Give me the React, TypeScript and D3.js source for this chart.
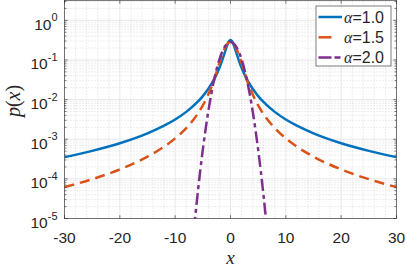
import React from "react";
import * as d3 from "d3";

const W = 407;
const H = 266;
const plot = { left: 64.5, right: 396.5, top: 0.5, bottom: 218.5 };

const xTicks = [-30, -20, -10, 0, 10, 20, 30];
const yExps = [-5, -4, -3, -2, -1, 0];

// sample points for the heavy-tailed curves
const xHeavy = [
  -30, -25, -20, -15, -12, -10, -8, -6, -5, -4, -3, -2.5, -2, -1.5, -1, -0.5, -0.25, 0,
  0.25, 0.5, 1, 1.5, 2, 2.5, 3, 4, 5, 6, 8, 10, 12, 15, 20, 25, 30,
];
const pAlpha10 = [
  0.000353, 0.000509, 0.000794, 0.00141, 0.0022, 0.00315, 0.0049, 0.0086, 0.01224, 0.01872,
  0.0318, 0.0439, 0.0637, 0.0979, 0.1592, 0.2546, 0.2996, 0.3183,
  0.2996, 0.2546, 0.1592, 0.0979, 0.0637, 0.0439, 0.0318, 0.01872, 0.01224, 0.0086, 0.0049,
  0.00315, 0.0022, 0.00141, 0.000794, 0.000509, 0.000353,
];
const pAlpha15 = [
  0.0000619, 0.0000982, 0.000173, 0.000363, 0.000649, 0.00105, 0.00191, 0.00422, 0.00711,
  0.0137, 0.0303, 0.051, 0.0844, 0.1361, 0.202, 0.2623, 0.2808, 0.2874,
  0.2808, 0.2623, 0.202, 0.1361, 0.0844, 0.051, 0.0303, 0.0137, 0.00711, 0.00422, 0.00191,
  0.00105, 0.000649, 0.000363, 0.000173, 0.0000982, 0.0000619,
];

const xGauss = [
  -7, -6.5, -6, -5.5, -5, -4.5, -4, -3.5, -3, -2.5, -2, -1.5, -1, -0.5, 0,
  0.5, 1, 1.5, 2, 2.5, 3, 3.5, 4, 4.5, 5, 5.5, 6, 6.5, 7,
];
const pAlpha20 = [
  0.00000135, 0.00000728, 0.0000348, 0.000147, 0.000545, 0.00179, 0.00517, 0.0132, 0.0297,
  0.0591, 0.1038, 0.1607, 0.2197, 0.265, 0.2821,
  0.265, 0.2197, 0.1607, 0.1038, 0.0591, 0.0297, 0.0132, 0.00517, 0.00179, 0.000545, 0.000147,
  0.0000348, 0.00000728, 0.00000135,
];

const series = [
  { label: "1.0", x: xHeavy, y: pAlpha10, color: "#0072BD", dash: undefined, legendDash: undefined },
  { label: "1.5", x: xHeavy, y: pAlpha15, color: "#D95319", dash: "10,6", legendDash: "13,40" },
  { label: "2.0", x: xGauss, y: pAlpha20, color: "#7E2F8E", dash: "12,4,4,4", legendDash: "13,3,6,20" },
];

const axisColor = "#262626";
const sans = "'Liberation Sans', Arial, Helvetica, sans-serif";
const serif = "'Liberation Serif', 'Times New Roman', serif";

export default function App() {
  const x = d3.scaleLinear().domain([-30, 30]).range([plot.left, plot.right]);
  const y = d3.scaleLog().domain([1e-5, Math.pow(10, 0.5)]).range([plot.bottom, plot.top]);

  const line = d3
    .line<[number, number]>()
    .x((d) => x(d[0]))
    .y((d) => y(Math.max(d[1], 1e-9)))
    .curve(d3.curveMonotoneX);

  const xMinor = d3.range(-30, 31, 2).filter((v) => v % 10 !== 0);
  const yMinor: number[] = [];
  yExps.forEach((e) => {
    for (let k = 2; k <= 9; k++) {
      const v = k * Math.pow(10, e);
      if (v <= Math.pow(10, 0.5)) yMinor.push(v);
    }
  });

  const tick = 3.3;
  const minorTick = 2;

  return (
    <svg
      width={W}
      height={H}
      style={{ position: "absolute", left: 0, top: 0, background: "#fff" }}
    >
      <defs>
        <clipPath id="plotClip">
          <rect x={plot.left} y={plot.top} width={plot.right - plot.left} height={plot.bottom - plot.top} />
        </clipPath>
      </defs>
      <rect x={plot.left} y={plot.top} width={plot.right - plot.left} height={plot.bottom - plot.top} fill="#fff" />

      {/* minor grid */}
      <g stroke="#c4c4c4" strokeWidth={0.6} strokeDasharray="1,2">
        {xMinor.map((v) => (
          <line key={"xm" + v} x1={x(v)} x2={x(v)} y1={plot.top} y2={plot.bottom} />
        ))}
        {yMinor.map((v) => (
          <line key={"ym" + v} x1={plot.left} x2={plot.right} y1={y(v)} y2={y(v)} />
        ))}
      </g>
      {/* major grid */}
      <g stroke="#dedede" strokeWidth={0.7}>
        {xTicks.map((v) => (
          <line key={"xg" + v} x1={x(v)} x2={x(v)} y1={plot.top} y2={plot.bottom} />
        ))}
        {yExps.map((e) => (
          <line key={"yg" + e} x1={plot.left} x2={plot.right} y1={y(Math.pow(10, e))} y2={y(Math.pow(10, e))} />
        ))}
      </g>

      {/* curves */}
      <g clipPath="url(#plotClip)" fill="none">
        {series.map((s) => (
          <path
            key={s.label}
            d={line(s.x.map((v, i) => [v, s.y[i]] as [number, number])) || ""}
            stroke={s.color}
            strokeWidth={2.5}
            strokeDasharray={s.dash}
            strokeLinejoin="round"
          />
        ))}
      </g>

      {/* axes box and ticks */}
      <g stroke={axisColor} strokeWidth={0.6} fill="none">
        <rect x={plot.left} y={plot.top} width={plot.right - plot.left} height={plot.bottom - plot.top} />
        {xTicks.map((v) => (
          <g key={"xt" + v}>
            <line x1={x(v)} x2={x(v)} y1={plot.bottom} y2={plot.bottom - tick} />
            <line x1={x(v)} x2={x(v)} y1={plot.top} y2={plot.top + tick} />
          </g>
        ))}
        {yExps.map((e) => (
          <g key={"yt" + e}>
            <line x1={plot.left} x2={plot.left + tick} y1={y(Math.pow(10, e))} y2={y(Math.pow(10, e))} />
            <line x1={plot.right} x2={plot.right - tick} y1={y(Math.pow(10, e))} y2={y(Math.pow(10, e))} />
          </g>
        ))}
        {yMinor.map((v) => (
          <g key={"ymt" + v}>
            <line x1={plot.left} x2={plot.left + minorTick} y1={y(v)} y2={y(v)} />
            <line x1={plot.right} x2={plot.right - minorTick} y1={y(v)} y2={y(v)} />
          </g>
        ))}
      </g>

      {/* tick labels */}
      <g fill={axisColor} fontFamily={sans} fontSize={15.5}>
        {xTicks.map((v) => (
          <text key={"xl" + v} x={x(v)} y={242.5} textAnchor="middle">
            {v}
          </text>
        ))}
        {yExps.map((e) => (
          <text key={"yl" + e} x={57.5} y={y(Math.pow(10, e)) + 9.5} textAnchor="end">
            10
            <tspan fontSize={11} dy={-8.5}>
              {e}
            </tspan>
          </text>
        ))}
      </g>

      {/* axis labels */}
      <text x={230.5} y={263.5} textAnchor="middle" fontFamily={serif} fontStyle="italic" fontSize={19} fill={axisColor}>
        x
      </text>
      <text
        transform="translate(20,101) rotate(-90)"
        textAnchor="middle"
        fontFamily={serif}
        fontSize={20}
        fill={axisColor}
      >
        <tspan fontStyle="italic">p</tspan>(<tspan fontStyle="italic">x</tspan>)
      </text>

      {/* legend */}
      <g>
        <rect x={316} y={6} width={75} height={60} fill="#fff" stroke={axisColor} strokeWidth={0.6} />
        {series.map((s, i) => {
          const ly = 17 + i * 20.3;
          return (
            <g key={"lg" + s.label}>
              <line x1={318.5} x2={342} y1={ly} y2={ly} stroke={s.color} strokeWidth={2.5} strokeDasharray={s.legendDash} />
              <text x={344} y={ly + 5.5} fontFamily={sans} fontSize={16} fill={axisColor}>
                <tspan fontFamily={serif} fontStyle="italic">α</tspan>=
                {s.label}
              </text>
            </g>
          );
        })}
      </g>
    </svg>
  );
}
